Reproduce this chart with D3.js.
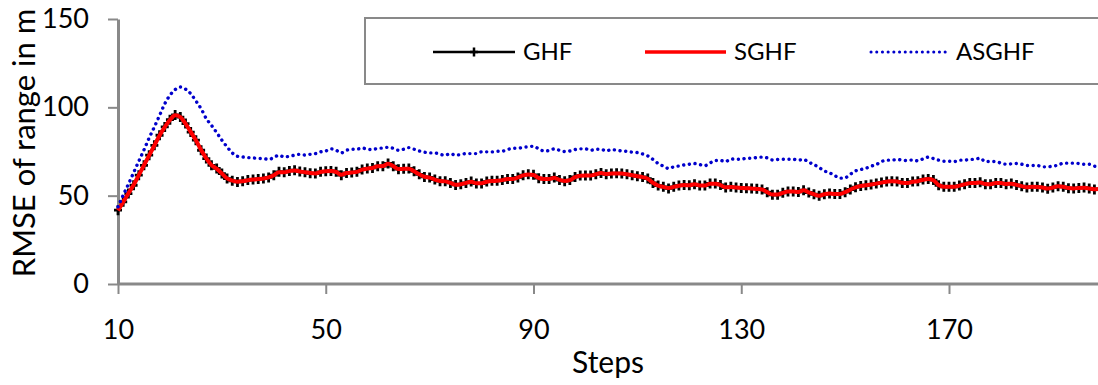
<!DOCTYPE html>
<html>
<head>
<meta charset="utf-8">
<script src="https://cdn.jsdelivr.net/npm/d3@7"></script>
<style>
  body { margin: 0; background: #fff; }
  svg { display: block; font-family: Lato, "Open Sans", sans-serif; }
</style>
</head>
<body>
<svg id="chart" width="1098" height="385"></svg>
<script>
var svg = d3.select("#chart"),
    width = +svg.attr("width"),
    height = +svg.attr("height");

// steps 10 .. 199
var firstStep = 10;
var xTicks = [10, 50, 90, 130, 170];
var yTicks = [0, 50, 100, 150];
var seriesNames = ["GHF", "SGHF", "ASGHF"];

var ghf = [
  41.8, 46.5, 51.2, 55.9, 61.6, 67.2, 72.9, 78.5, 84.2, 88.9,
  93.0, 95.7, 94.5, 90.8, 86.0, 81.4, 75.7, 71.0, 67.2, 65.4,
  62.5, 59.7, 58.4, 57.8, 58.2, 58.8, 59.1, 59.5, 59.7, 60.3,
  61.6, 63.5, 63.3, 64.0, 64.4, 63.7, 63.3, 62.7, 62.5, 63.5,
  63.8, 64.0, 63.5, 61.6, 62.9, 63.1, 63.5, 64.8, 65.4, 65.7,
  66.7, 66.7, 68.2, 66.7, 65.0, 65.2, 65.4, 63.8, 62.1, 60.6,
  60.3, 59.1, 58.2, 58.2, 57.2, 56.1, 56.5, 57.2, 58.0, 56.9,
  56.9, 58.0, 58.4, 58.4, 58.8, 59.5, 59.5, 60.3, 61.6, 62.1,
  61.8, 59.9, 59.5, 59.5, 60.3, 58.8, 58.2, 58.8, 60.6, 61.4,
  61.4, 61.4, 62.1, 62.9, 62.1, 62.5, 62.7, 62.5, 62.1, 61.6,
  61.0, 60.6, 59.7, 57.2, 55.7, 55.0, 54.1, 55.0, 55.7, 56.1,
  55.9, 56.5, 55.7, 55.7, 56.9, 56.9, 56.1, 54.6, 55.0, 54.6,
  54.4, 54.2, 54.1, 53.9, 53.5, 52.0, 50.5, 50.5, 51.6, 52.4,
  52.4, 52.1, 53.1, 51.8, 50.8, 49.9, 50.8, 51.2, 51.0, 51.0,
  52.0, 53.5, 54.8, 55.5, 55.9, 56.3, 56.9, 57.4, 58.0, 58.2,
  58.0, 57.2, 57.2, 58.0, 58.2, 59.1, 59.5, 58.8, 55.9, 55.0,
  55.0, 55.0, 55.7, 56.5, 57.2, 57.2, 57.6, 56.5, 56.5, 57.2,
  57.2, 56.5, 56.9, 56.1, 55.4, 54.6, 55.0, 55.0, 54.6, 53.9,
  54.6, 55.4, 55.0, 54.2, 54.1, 54.4, 54.6, 54.1, 53.5, 53.8
];

var sghf = [
  41.6, 46.5, 51.3, 56.0, 61.6, 67.2, 72.8, 78.4, 84.1, 88.8,
  92.9, 95.5, 94.5, 90.8, 86.1, 81.4, 75.8, 71.1, 67.3, 65.3,
  62.5, 59.8, 58.5, 57.9, 58.2, 58.7, 59.1, 59.4, 59.7, 60.3,
  61.6, 63.3, 63.3, 63.9, 64.3, 63.7, 63.3, 62.8, 62.6, 63.4,
  63.8, 63.9, 63.4, 61.8, 62.8, 63.1, 63.5, 64.7, 65.3, 65.7,
  66.6, 66.8, 68.0, 66.7, 65.1, 65.2, 65.3, 63.8, 62.1, 60.7,
  60.2, 59.1, 58.3, 58.1, 57.2, 56.2, 56.5, 57.2, 57.9, 57.0,
  57.0, 57.9, 58.3, 58.4, 58.8, 59.4, 59.5, 60.3, 61.5, 62.0,
  61.7, 60.0, 59.5, 59.5, 60.2, 58.9, 58.3, 58.8, 60.5, 61.3,
  61.4, 61.4, 62.1, 62.8, 62.2, 62.5, 62.6, 62.5, 62.1, 61.6,
  61.0, 60.5, 59.6, 57.3, 55.7, 55.0, 54.3, 55.0, 55.6, 56.0,
  55.9, 56.4, 55.8, 55.7, 56.8, 56.8, 56.0, 54.7, 54.9, 54.6,
  54.4, 54.2, 54.1, 53.8, 53.5, 52.0, 50.6, 50.6, 51.6, 52.3,
  52.4, 52.1, 53.0, 51.8, 50.8, 50.0, 50.8, 51.2, 51.0, 51.0,
  52.0, 53.4, 54.7, 55.5, 55.9, 56.3, 56.8, 57.4, 57.9, 58.2,
  58.0, 57.3, 57.2, 57.9, 58.2, 59.0, 59.4, 58.7, 56.0, 55.0,
  55.0, 55.0, 55.7, 56.4, 57.1, 57.2, 57.5, 56.6, 56.5, 57.1,
  57.1, 56.6, 56.8, 56.1, 55.4, 54.7, 55.0, 54.9, 54.6, 54.0,
  54.6, 55.3, 55.0, 54.3, 54.1, 54.4, 54.5, 54.1, 53.6, 53.8
];

var asghf = [
  43.7, 50.3, 56.5, 63.0, 69.5, 75.9, 82.7, 88.9, 95.4, 102.0,
  106.8, 110.0, 111.5, 110.3, 107.7, 103.6, 99.2, 93.6, 89.8, 85.7,
  81.4, 77.6, 74.2, 72.3, 71.9, 71.6, 71.4, 71.0, 71.0, 70.5,
  71.6, 72.9, 71.9, 72.3, 72.9, 73.4, 73.0, 73.4, 73.8, 74.8,
  75.3, 76.5, 75.7, 74.2, 75.7, 76.3, 76.3, 77.0, 76.3, 76.1,
  76.8, 77.0, 77.4, 76.8, 75.7, 76.3, 77.2, 76.3, 75.3, 74.6,
  74.2, 74.2, 73.4, 72.9, 73.8, 72.9, 73.3, 73.8, 73.8, 73.8,
  74.8, 74.8, 74.8, 75.1, 75.2, 76.1, 76.8, 76.8, 77.4, 77.6,
  78.0, 76.5, 75.3, 75.5, 76.5, 75.7, 75.0, 75.3, 76.1, 76.5,
  76.5, 75.7, 76.3, 76.3, 75.3, 76.1, 75.7, 75.3, 75.1, 74.6,
  74.4, 73.6, 72.5, 70.5, 68.2, 66.7, 65.4, 66.3, 66.8, 67.4,
  67.8, 68.2, 67.6, 67.0, 68.5, 69.9, 69.9, 69.3, 70.8, 70.6,
  70.6, 71.2, 71.2, 71.6, 71.8, 71.4, 70.2, 70.5, 70.6, 70.6,
  70.6, 70.1, 70.5, 68.9, 67.6, 65.9, 64.0, 62.9, 61.4, 59.9,
  60.1, 62.1, 64.0, 64.8, 65.5, 66.7, 67.6, 69.3, 70.1, 70.1,
  70.5, 70.1, 69.9, 70.2, 69.7, 70.8, 71.8, 71.0, 70.1, 69.5,
  69.5, 69.3, 70.1, 70.1, 70.5, 70.6, 71.2, 69.3, 69.3, 69.3,
  68.4, 67.8, 68.0, 68.2, 67.8, 67.1, 67.1, 67.1, 66.3, 66.3,
  66.8, 67.2, 68.4, 68.4, 68.4, 68.2, 67.8, 67.8, 66.7, 66.5
];

var plotLeft = 118, plotTop = 19, plotBottom = 284;

var x = d3.scaleLinear().domain([10, 170]).range([plotLeft, 949]);
var y = d3.scaleLinear().domain([0, 150]).range([plotBottom, plotTop]);

function toPoints(arr) {
  return arr.map(function(v, i) { return [firstStep + i, v]; });
}

var line = d3.line()
  .x(function(d) { return x(d[0]); })
  .y(function(d) { return y(d[1]); })
  .curve(d3.curveMonotoneX);

var grey = "#898989";
var blueDash = "0.1 5.6";

// axes
var yAxis = svg.append("g")
  .attr("transform", "translate(" + plotLeft + ",0)")
  .call(d3.axisLeft(y).tickValues(yTicks).tickSize(10).tickSizeOuter(0).tickPadding(19));

var xAxis = svg.append("g")
  .attr("transform", "translate(0," + plotBottom + ")")
  .call(d3.axisBottom(x).tickValues(xTicks).tickSize(10).tickSizeOuter(0).tickPadding(26));

xAxis.select(".domain").attr("d", "M" + plotLeft + ",0H" + width);

[yAxis, xAxis].forEach(function(a) {
  a.select(".domain").attr("stroke", grey).attr("stroke-width", 3);
  a.selectAll(".tick line").attr("stroke", grey).attr("stroke-width", 2);
  a.selectAll(".tick text").attr("fill", "#000").style("font-size", "27px")
    .style("font-family", "Lato, 'Open Sans', sans-serif");
});

// series
var g = svg.append("g");

g.append("path")
  .datum(toPoints(ghf))
  .attr("d", line)
  .attr("fill", "none")
  .attr("stroke", "#000")
  .attr("stroke-width", 2.5);

g.selectAll(".mark")
  .data(toPoints(ghf))
  .enter()
  .append("path")
  .attr("class", "mark")
  .attr("d", function(d) {
    var px = x(d[0]), py = y(d[1]);
    return "M" + (px - 4) + "," + py + "H" + (px + 4) + "M" + px + "," + (py - 5) + "V" + (py + 5);
  })
  .attr("stroke", "#000")
  .attr("stroke-width", 2.8);

g.append("path")
  .datum(toPoints(sghf))
  .attr("d", line)
  .attr("fill", "none")
  .attr("stroke", "#ff0000")
  .attr("stroke-width", 4);

g.append("path")
  .datum(toPoints(asghf))
  .attr("d", line)
  .attr("fill", "none")
  .attr("stroke", "#0000cc")
  .attr("stroke-width", 3.4)
  .attr("stroke-linecap", "round")
  .attr("stroke-dasharray", blueDash);

// legend
var lg = svg.append("g");
lg.append("rect")
  .attr("x", 365).attr("y", 18)
  .attr("width", 760).attr("height", 66)
  .attr("fill", "#fff")
  .attr("stroke", grey)
  .attr("stroke-width", 2);

var legendItems = [
  { name: seriesNames[0], x1: 433, x2: 515, color: "#000", w: 2.5 },
  { name: seriesNames[1], x1: 645, x2: 726, color: "#ff0000", w: 3.5 },
  { name: seriesNames[2], x1: 871, x2: 948, color: "#0000cc", w: 3, dash: blueDash }
];
var ly = 52;
legendItems.forEach(function(it, i) {
  lg.append("line")
    .attr("x1", it.x1).attr("x2", it.x2)
    .attr("y1", ly).attr("y2", ly)
    .attr("stroke", it.color)
    .attr("stroke-width", it.w)
    .attr("stroke-linecap", it.dash ? "round" : "butt")
    .attr("stroke-dasharray", it.dash || null);
  if (i === 0) {
    var mx = (it.x1 + it.x2) / 2;
    lg.append("path")
      .attr("d", "M" + (mx - 4) + "," + ly + "H" + (mx + 4) + "M" + mx + "," + (ly - 4.5) + "V" + (ly + 4.5))
      .attr("stroke", "#000").attr("stroke-width", 2.5);
  }
  lg.append("text")
    .attr("x", it.x2 + 8)
    .attr("y", ly)
    .attr("dy", "0.35em")
    .style("font-size", "24px")
    .text(it.name);
});

// axis titles
svg.append("text")
  .attr("x", (plotLeft + width) / 2)
  .attr("y", 373)
  .attr("text-anchor", "middle")
  .style("font-size", "30px")
  .text("Steps");

svg.append("text")
  .attr("transform", "translate(35," + 143 + ") rotate(-90)")
  .attr("text-anchor", "middle")
  .style("font-size", "31px")
  .text("RMSE of range in m");
</script>
</body>
</html>
